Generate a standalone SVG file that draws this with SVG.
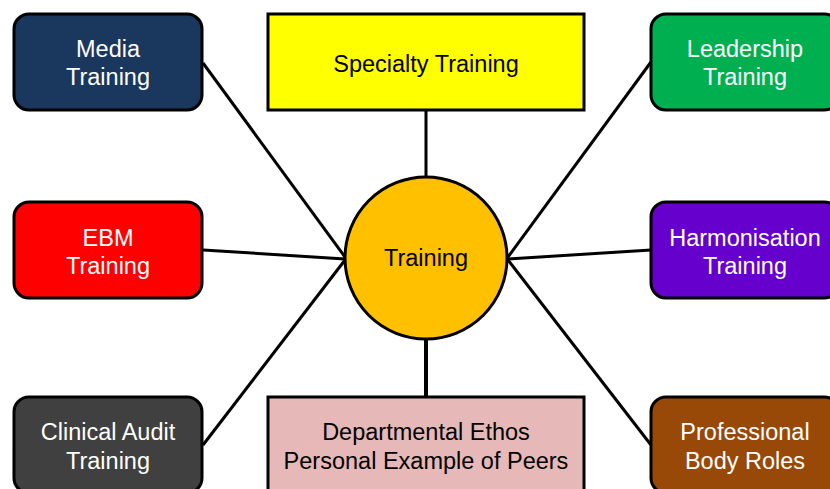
<svg xmlns="http://www.w3.org/2000/svg" width="830" height="489" viewBox="0 0 830 489">
<style>
.box{stroke:#000;stroke-width:3}
.t{font-family:"Liberation Sans",Arial,sans-serif;font-size:23.5px;text-anchor:middle}
.w{fill:#fff}
.k{fill:#000}
.c line{stroke:#000;stroke-width:3}
</style>
<rect width="830" height="489" fill="#fff"/>
<g class="c" id="connectors">
<line x1="203" y1="63" x2="345" y2="257"/>
<line x1="203" y1="250" x2="345" y2="259"/>
<line x1="203" y1="445" x2="345" y2="260"/>
<line x1="651" y1="62" x2="508" y2="257"/>
<line x1="651" y1="250" x2="508" y2="259"/>
<line x1="651" y1="445" x2="508" y2="260"/>
<line x1="426" y1="110" x2="426" y2="178"/>
<line x1="426" y1="338" x2="426" y2="397" style="stroke-width:4"/>
</g>
<g id="media"><rect class="box" x="14" y="14" width="188" height="96" rx="15" fill="#1A375E"/><text class="t w" x="108" y="57">Media</text><text class="t w" x="108" y="85">Training</text></g>
<g id="specialty"><rect class="box" x="268" y="14" width="316" height="96" fill="#FFFF00"/><text class="t k" x="426" y="72">Specialty Training</text></g>
<g id="leadership"><rect class="box" x="651" y="14" width="188" height="96" rx="15" fill="#00B050"/><text class="t w" x="745" y="57">Leadership</text><text class="t w" x="745" y="85">Training</text></g>
<g id="ebm"><rect class="box" x="14" y="202" width="188" height="96" rx="15" fill="#FF0000"/><text class="t w" x="108" y="246">EBM</text><text class="t w" x="108" y="274">Training</text></g>
<g id="center"><circle class="box" cx="426" cy="258" r="81" fill="#FFC000"/><text class="t k" x="426" y="266">Training</text></g>
<g id="harmonisation"><rect class="box" x="651" y="202" width="188" height="96" rx="15" fill="#6600CC"/><text class="t w" x="745" y="246">Harmonisation</text><text class="t w" x="745" y="274">Training</text></g>
<g id="clinical"><rect class="box" x="14" y="397" width="188" height="96" rx="15" fill="#404040"/><text class="t w" x="108" y="440">Clinical Audit</text><text class="t w" x="108" y="469">Training</text></g>
<g id="departmental"><rect class="box" x="268" y="397" width="316" height="96" fill="#E6B9B8"/><text class="t k" x="426" y="440">Departmental Ethos</text><text class="t k" x="426" y="469">Personal Example of Peers</text></g>
<g id="professional"><rect class="box" x="651" y="397" width="188" height="96" rx="15" fill="#984807"/><text class="t w" x="745" y="440">Professional</text><text class="t w" x="745" y="469">Body Roles</text></g>
</svg>
